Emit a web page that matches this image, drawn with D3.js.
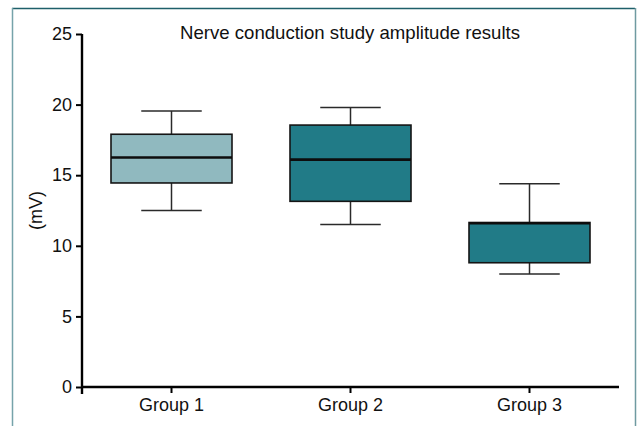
<!DOCTYPE html>
<html>
<head>
<meta charset="utf-8">
<script src="https://cdn.jsdelivr.net/npm/d3@7"></script>
<style>
  body { margin: 0; background: #fff; }
  text { font-family: "Liberation Sans", Arial, sans-serif; fill: #111; }
</style>
</head>
<body>
<script>
// data
var groups = ["Group 1", "Group 2", "Group 3"];
var whiskerLow = [12.5, 11.5, 8.0];
var q1 = [14.45, 13.15, 8.8];
var medians = [16.25, 16.1, 11.6];
var q3 = [17.9, 18.55, 11.65];
var whiskerHigh = [19.55, 19.8, 14.4];
var fills = ["#90b9bf", "#217b87", "#217b87"];
var yTicks = [0, 5, 10, 15, 20, 25];

var width = 639, height = 426;
var svg = d3.select("body").append("svg")
    .attr("width", width)
    .attr("height", height);

// frame around the figure
svg.append("line").attr("x1", 12).attr("x2", 635).attr("y1", 8.5).attr("y2", 8.5)
    .attr("stroke", "#1e5f6a").attr("stroke-width", 1.5);
svg.append("line").attr("x1", 12.5).attr("x2", 12.5).attr("y1", 8).attr("y2", height)
    .attr("stroke", "#76a3aa").attr("stroke-width", 1.5);
svg.append("line").attr("x1", 635.5).attr("x2", 635.5).attr("y1", 8).attr("y2", height)
    .attr("stroke", "#6f9aa1").attr("stroke-width", 1.5);

var plotL = 82, plotR = 619, plotT = 34, plotB = 387;

var y = d3.scaleLinear().domain([0, 25]).range([plotB, plotT]);
var x = d3.scaleBand().domain(groups).range([plotL, plotR]);
var boxW = 121;

var data = groups.map(function (g, i) {
    return {name: g, lo: whiskerLow[i], q1: q1[i], med: medians[i], q3: q3[i], hi: whiskerHigh[i], fill: fills[i]};
});

var boxes = svg.append("g").selectAll("g.box")
    .data(data)
    .enter().append("g")
    .attr("class", "box")
    .attr("transform", function (d) { return "translate(" + (x(d.name) + x.bandwidth() / 2) + ",0)"; });

// whiskers
boxes.append("line")
    .attr("x1", 0).attr("x2", 0)
    .attr("y1", function (d) { return y(d.hi); })
    .attr("y2", function (d) { return y(d.lo); })
    .attr("stroke", "#2a2a2a").attr("stroke-width", 1.5);
boxes.append("line")
    .attr("x1", -boxW / 4).attr("x2", boxW / 4)
    .attr("y1", function (d) { return y(d.hi); })
    .attr("y2", function (d) { return y(d.hi); })
    .attr("stroke", "#2a2a2a").attr("stroke-width", 1.5);
boxes.append("line")
    .attr("x1", -boxW / 4).attr("x2", boxW / 4)
    .attr("y1", function (d) { return y(d.lo); })
    .attr("y2", function (d) { return y(d.lo); })
    .attr("stroke", "#2a2a2a").attr("stroke-width", 1.5);

// box
boxes.append("rect")
    .attr("x", -boxW / 2)
    .attr("width", boxW)
    .attr("y", function (d) { return y(d.q3); })
    .attr("height", function (d) { return y(d.q1) - y(d.q3); })
    .attr("fill", function (d) { return d.fill; })
    .attr("stroke", "#151515").attr("stroke-width", 1.6);

// median
boxes.append("line")
    .attr("x1", -boxW / 2).attr("x2", boxW / 2)
    .attr("y1", function (d) { return y(d.med); })
    .attr("y2", function (d) { return y(d.med); })
    .attr("stroke", "#0d0d0d").attr("stroke-width", 2.6);

// axes
var yAxis = svg.append("g")
    .attr("transform", "translate(" + plotL + ",0)")
    .call(d3.axisLeft(y).tickValues(yTicks).tickSize(6).tickPadding(4).tickSizeOuter(0));
var xAxis = svg.append("g")
    .attr("transform", "translate(0," + plotB + ")")
    .call(d3.axisBottom(x).tickSize(6).tickPadding(5).tickSizeOuter(0));

[yAxis, xAxis].forEach(function (a) {
    a.select(".domain").attr("stroke", "#000").attr("stroke-width", 2.4);
    a.selectAll(".tick line").attr("stroke", "#000").attr("stroke-width", 2);
    a.selectAll(".tick text").style("font-size", "18px").attr("fill", "#111");
});
yAxis.select(".domain").attr("d", "M0," + plotT + "V" + (plotB + 7));
xAxis.select(".domain").attr("d", "M" + plotL + ",0H" + plotR);

// y label
svg.append("text")
    .attr("transform", "translate(42," + ((plotT + plotB) / 2) + ") rotate(-90)")
    .attr("text-anchor", "middle")
    .style("font-size", "18px")
    .text("(mV)");

// title
svg.append("text")
    .attr("x", 350)
    .attr("y", 39)
    .attr("text-anchor", "middle")
    .style("font-size", "18.6px")
    .text("Nerve conduction study amplitude results");
</script>
</body>
</html>
